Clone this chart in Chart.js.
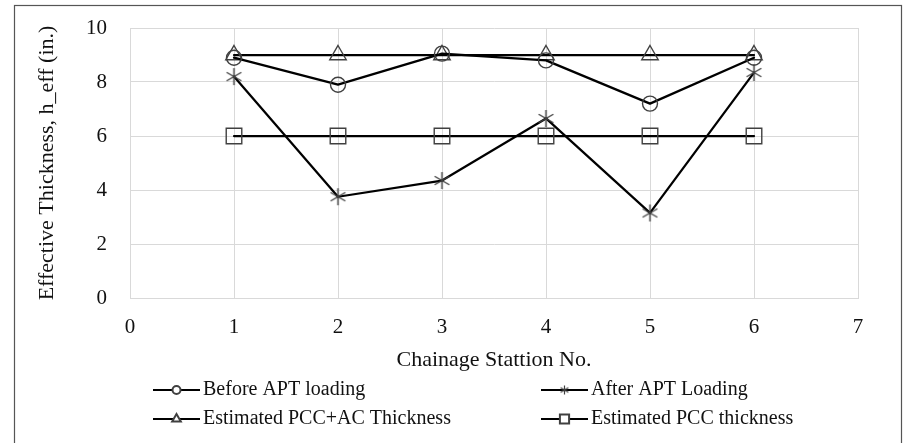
<!DOCTYPE html>
<html>
<head>
<meta charset="utf-8">
<script src="https://cdn.jsdelivr.net/npm/chart.js@4/dist/chart.umd.min.js"></script>
<style>
  html, body { margin: 0; padding: 0; background: #fff; }
  #wrap { width: 905px; height: 443px; position: relative; }
</style>
</head>
<body>
<div id="wrap"><canvas id="c" width="905" height="443"></canvas></div>
<script>
// Chainage stations and effective thickness readings (in.)
const stations = [1, 2, 3, 4, 5, 6];
const beforeApt = [8.9, 7.9, 9.05, 8.8, 7.2, 8.9];
const afterApt = [8.2, 3.75, 4.35, 6.65, 3.15, 8.35];
const pccAcThickness = [9, 9, 9, 9, 9, 9];
const pccThickness = [6, 6, 6, 6, 6, 6];

// Axis tick values
const xTickValues = [0, 1, 2, 3, 4, 5, 6, 7];
const yTickValues = [0, 2, 4, 6, 8, 10];

const SERIF = '"Liberation Serif", "Times New Roman", serif';
const MARK = '#404040';
const TEXT = '#111';

// Six-spoke asterisk marker drawn on a small canvas
function asterisk(size, lw) {
  const cv = document.createElement('canvas');
  cv.width = size; cv.height = size;
  const g = cv.getContext('2d');
  const c = size / 2, r = size / 2 - 1;
  g.strokeStyle = MARK;
  g.lineWidth = lw;
  g.beginPath();
  g.moveTo(c, c - r); g.lineTo(c, c + r);
  const d = r * Math.cos(Math.PI / 6), e = r * Math.sin(Math.PI / 6);
  g.moveTo(c - d, c - e); g.lineTo(c + d, c + e);
  g.moveTo(c - d, c + e); g.lineTo(c + d, c - e);
  g.stroke();
  return cv;
}
const starBig = asterisk(19, 1.4);
const starSmall = asterisk(11, 1.2);

function pts(vals) { return stations.map((s, i) => ({ x: s, y: vals[i] })); }

function series(label, vals, style, radius, legendStyle, legendRadius) {
  return {
    label,
    data: pts(vals),
    borderColor: '#000',
    borderWidth: 2.25,
    tension: 0,
    fill: false,
    pointStyle: style,
    pointRadius: radius,
    pointBorderColor: MARK,
    pointBackgroundColor: 'rgba(0,0,0,0)',
    pointBorderWidth: 1.4,
    legendStyle,
    legendRadius
  };
}

const datasets = [
  series('Before APT loading', beforeApt, 'circle', 7.5, 'circle', 4),
  series('After APT Loading', afterApt, starBig, 8, starSmall, 5),
  series('Estimated PCC+AC Thickness', pccAcThickness, 'triangle', 9.5, 'triangle', 5),
  series('Estimated PCC thickness', pccThickness, 'rect', 11, 'rect', 6.5)
];

// White background and the outer frame
const framePlugin = {
  id: 'frame',
  beforeDraw(chart) {
    const ctx = chart.ctx;
    ctx.save();
    ctx.fillStyle = '#fff';
    ctx.fillRect(0, 0, chart.width, chart.height);
    ctx.strokeStyle = '#555';
    ctx.lineWidth = 1.2;
    ctx.strokeRect(14.5, 5.5, 887, 460);
    ctx.restore();
  }
};

// Two-column legend beneath the axis title
const legendPlugin = {
  id: 'gridLegend',
  afterDraw(chart) {
    const ctx = chart.ctx;
    const cols = [153, 541];
    const rows = [390, 419];
    const lineLen = 47;
    ctx.save();
    chart.data.datasets.forEach((ds, i) => {
      const x0 = cols[i % 2], y = rows[Math.floor(i / 2)];
      ctx.strokeStyle = '#000';
      ctx.lineWidth = 2;
      ctx.beginPath();
      ctx.moveTo(x0, y); ctx.lineTo(x0 + lineLen, y);
      ctx.stroke();
      ctx.strokeStyle = MARK;
      ctx.fillStyle = '#fff';
      Chart.helpers.drawPoint(ctx, {
        pointStyle: ds.legendStyle,
        radius: ds.legendRadius,
        borderWidth: 1.2,
        rotation: 0
      }, x0 + lineLen / 2, y);
      ctx.fillStyle = TEXT;
      ctx.font = '20px ' + SERIF;
      ctx.textBaseline = 'middle';
      ctx.textAlign = 'left';
      ctx.fillText(ds.label, x0 + lineLen + 3, y);
    });
    ctx.restore();
  }
};

new Chart(document.getElementById('c'), {
  type: 'line',
  data: { datasets },
  plugins: [framePlugin, legendPlugin],
  options: {
    responsive: false,
    animation: false,
    devicePixelRatio: 1,
    layout: { padding: { left: 0, top: 28, right: 47, bottom: 0 } },
    plugins: { legend: { display: false }, tooltip: { enabled: false } },
    elements: { line: { borderCapStyle: 'round', borderJoinStyle: 'round' } },
    scales: {
      x: {
        type: 'linear',
        min: 0,
        max: 7,
        afterBuildTicks: s => { s.ticks = xTickValues.map(v => ({ value: v })); },
        afterFit: s => { s.height = 145; s.paddingLeft = 0; s.paddingRight = 0; },
        grid: { color: '#d9d9d9', lineWidth: 1, drawTicks: false },
        border: { color: '#d9d9d9', width: 1 },
        ticks: { font: { family: SERIF, size: 21 }, color: TEXT, padding: 17 },
        title: {
          display: true,
          text: 'Chainage Stattion No.',
          font: { family: SERIF, size: 22 },
          color: TEXT,
          padding: { top: 0, bottom: 70 }
        }
      },
      y: {
        min: 0,
        max: 10,
        afterBuildTicks: s => { s.ticks = yTickValues.map(v => ({ value: v })); },
        afterFit: s => { s.width = 130; s.paddingTop = 0; s.paddingBottom = 0; },
        grid: { color: '#d9d9d9', lineWidth: 1, drawTicks: false },
        border: { color: '#d9d9d9', width: 1 },
        ticks: { font: { family: SERIF, size: 21 }, color: TEXT, padding: 23 },
        title: {
          display: true,
          text: 'Effective Thickness, h_eff (in.)',
          font: { family: SERIF, size: 22 },
          color: TEXT,
          padding: { top: 34, bottom: 0 }
        }
      }
    }
  }
});
</script>
</body>
</html>
